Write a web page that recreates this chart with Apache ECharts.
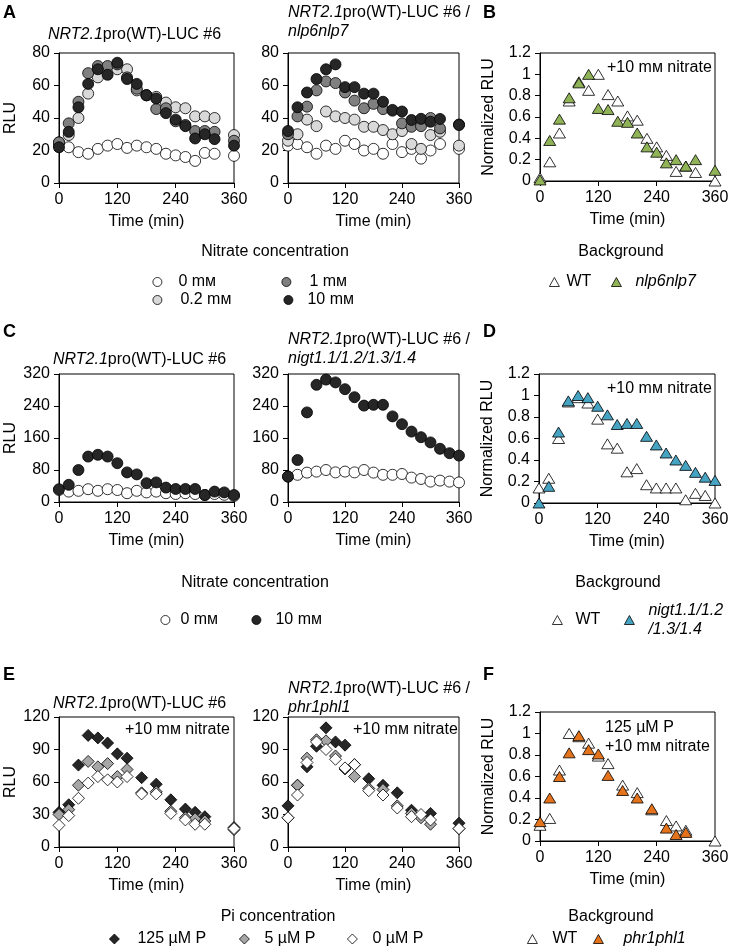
<!DOCTYPE html>
<html><head><meta charset="utf-8">
<script src="https://cdn.jsdelivr.net/npm/echarts@6/dist/echarts.min.js"></script>
<style>html,body{margin:0;padding:0;background:#fff}#c{width:742px;height:952px}</style>
</head><body><div id="c"></div>
<script>
const FF = "'Liberation Sans', Arial, Helvetica, sans-serif";

// ---------- time points (min) ----------
const timesAB = [0,20,40,60,80,100,120,140,160,180,200,220,240,260,280,300,320,360];
const timesCD = [0,20,40,60,80,100,120,140,160,180,200,220,240,260,280,300,320,340,360];
const timesEF = [0,20,40,60,80,100,120,140,170,200,230,260,280,300,360];

// ---------- tick labels ----------
const xTicks = [0,120,240,360];
const yTicksA = [0,20,40,60,80];
const yTicksC = [0,80,160,240,320];
const yTicksE = [0,30,60,90,120];
const yTicksN = [0,0.2,0.4,0.6,0.8,1,1.2];

// ---------- Panel A left: NRT2.1pro(WT)-LUC #6 ----------
const a1_0   = [23,22,19,18,21,23,24,21.6,23,22,21,18,17,16,13.6,18.5,18,16.7];
const a1_02  = [25,29.5,40,55,65,70,70,70,57,54,53,49.5,46.6,46,41,41,40,29.5];
const a1_1   = [25,36.7,50,67.6,72,72,73,65,58,54,45.5,46,38,35.7,32,32,31.5,26];
const a1_10  = [22,31.5,46.6,61,70,66.6,74,64,61,54,52,43,39,35,27.4,30,27,23];
// ---------- Panel A right: / nlp6nlp7 ----------
const a2_0   = [23,24,22,18,23,21,26,24,20,21,18,24,19,21,15,20,24,21];
const a2_02  = [26,30,39,35,44,41,40,39,34.6,34.6,32.6,30,32,24,21,29.5,31.5,23];
const a2_1   = [30,41,47,57,62.5,61.5,55.7,50.7,46,48.7,45.5,44.5,36.7,34.6,35,40,33.6,36];
const a2_10  = [32,46.6,55.7,64,70,73,59,59,55,55,50,45,44,38.8,39.5,37.7,39.4,35.7];
// ---------- Panel B: normalized ----------
const bWT    = [0.03,0.18,0.45,0.75,0.93,0.85,1.0,0.81,0.75,0.61,0.57,0.40,0.32,0.24,0.09,0.14,0.08,0.0];
const bNlp   = [0.01,0.38,0.58,0.78,0.92,1.0,0.68,0.67,0.56,0.55,0.45,0.32,0.27,0.17,0.20,0.14,0.20,0.10];
// ---------- Panel C left / right ----------
const c1_0   = [30,26,28,32,28,32,30,22,28,24,26,22,20,22,20,17.5,20,18,15];
const c1_10  = [32,43,80,113.6,118,113.6,97,74,69,47,49,36,32.6,32.6,32.6,17.5,26,24,17.5];
const c2_0   = [63.5,68,73.5,76,80,74,76,74,80,73.5,68,68,70,61,57.6,51,53.5,51,49];
const c2_10  = [63.5,105,224,293,306,299,282,262,241,243,243,214,194.6,176,162,149,133,122,116];
// ---------- Panel D: normalized ----------
const dWT    = [0.14,0.23,0.60,0.94,0.98,0.93,0.78,0.55,0.51,0.29,0.32,0.17,0.14,0.14,0.14,0.03,0.09,0.07,0.0];
const dNigt  = [0.0,0.155,0.66,0.95,1.0,0.98,0.90,0.82,0.73,0.74,0.74,0.62,0.54,0.465,0.40,0.35,0.285,0.24,0.21];
// ---------- Panel E left / right ----------
const e1_125 = [32,39,75.6,103,100.7,96,86,82,64,58,43.6,35,32,28,18];
const e1_5   = [30,34.5,57,79,74,77,65,71.5,50,51,33,27,26,24,16];
const e1_0   = [20,29,45,59,65,62,60,65,49,49,31,25,21,21,17];
const e2_125 = [38,57,74,93,110,97,94,76,63,57,50,34,28,31,22];
const e2_5   = [27,57,82,99,98,84,72,65,54,53,38,31,27,21,17];
const e2_0   = [27,48,78,97,90,81,73,76,52,48,36,28,30,25,17];
// ---------- Panel F: normalized ----------
const fWT    = [0.146,0.21,0.66,1.0,0.97,0.91,0.79,0.72,0.52,0.45,0.29,0.19,0.14,0.10,0.0];
const fPhr   = [0.18,0.40,0.60,0.82,0.98,0.85,0.81,0.61,0.47,0.40,0.30,0.12,0.06,0.08,null];

// ---------- names / colours ----------
const N0 = '0 m\u1D0D', N02 = '0.2 m\u1D0D', N1 = '1 m\u1D0D', N10 = '10 m\u1D0D';
const P125 = '125 \u00B5M P', P5 = '5 \u00B5M P', P0 = '0 \u00B5M P';
const WT = 'WT', NLP = 'nlp6nlp7', NIGT = 'nigt1.1/1.2/1.3/1.4', PHR = 'phr1phl1';
const COL = {white:'#ffffff', light:'#d9d9d9', mid:'#808080', dark:'#262626', dia5:'#a6a6a6',
             green:'#8fb356', blue:'#46a3c2', orange:'#e5731c'};

const grids = [
  {left:59,  top:53,  width:175, height:130},
  {left:288, top:53,  width:171, height:130},
  {left:540, top:53,  width:175, height:128},
  {left:59,  top:374, width:175, height:128},
  {left:288, top:374, width:171, height:128},
  {left:539, top:374, width:176, height:129},
  {left:59,  top:717, width:175, height:130},
  {left:288, top:717, width:171, height:130},
  {left:540, top:712, width:175, height:129}
].map(g => Object.assign({show:true, borderColor:'#000', borderWidth:1, backgroundColor:'transparent', containLabel:false}, g));

const txtStyle = {fontSize:16, fontFamily:FF, color:'#000'};
function xAx(gi){
  return {gridIndex:gi, type:'value', min:xTicks[0], max:xTicks[xTicks.length-1], interval:xTicks[1]-xTicks[0],
    name:'Time (min)', nameLocation:'middle', nameGap:31, nameTextStyle:txtStyle,
    axisLine:{show:true, onZero:false, lineStyle:{color:'#000', width:1}},
    axisTick:{show:true, length:5, inside:false, lineStyle:{color:'#000', width:1}},
    axisLabel:Object.assign({margin:9, showMinLabel:true, showMaxLabel:true}, txtStyle),
    splitLine:{show:false}};
}
function yAx(gi, ticks, name){
  const o = {gridIndex:gi, type:'value', min:ticks[0], max:ticks[ticks.length-1], interval:ticks[1]-ticks[0],
    axisLine:{show:true, onZero:false, lineStyle:{color:'#000', width:1}},
    axisTick:{show:true, length:5, inside:false, lineStyle:{color:'#000', width:1}},
    axisLabel:Object.assign({margin:9, showMinLabel:true, showMaxLabel:true}, txtStyle),
    splitLine:{show:false}};
  if (name) { o.name = name; o.nameLocation = 'middle'; o.nameGap = name === 'RLU' ? 40 : 43; o.nameTextStyle = txtStyle; }
  return o;
}
const xAxes = grids.map((g,i) => xAx(i));
const yAxes = [yAx(0,yTicksA,'RLU'), yAx(1,yTicksA), yAx(2,yTicksN,'Normalized RLU'),
               yAx(3,yTicksC,'RLU'), yAx(4,yTicksC), yAx(5,yTicksN,'Normalized RLU'),
               yAx(6,yTicksE,'RLU'), yAx(7,yTicksE), yAx(8,yTicksN,'Normalized RLU')];

function S(name, gi, times, vals, symbol, size, color){
  return {type:'scatter', name, xAxisIndex:gi, yAxisIndex:gi,
    data: times.map((t,i) => [t, vals[i]]).filter(p => p[1] != null),
    symbol, symbolSize:size, clip:false, silent:true,
    itemStyle:{color, borderColor:'#000', borderWidth:0.8, opacity:1},
    emphasis:{disabled:true}};
}
const CIR = 11, TRI = [12,10], DIA = 12;
const series = [
  S(N0,0,timesAB,a1_0,'circle',CIR,COL.white), S(N02,0,timesAB,a1_02,'circle',CIR,COL.light),
  S(N1,0,timesAB,a1_1,'circle',CIR,COL.mid),   S(N10,0,timesAB,a1_10,'circle',CIR,COL.dark),
  S(N0,1,timesAB,a2_0,'circle',CIR,COL.white), S(N02,1,timesAB,a2_02,'circle',CIR,COL.light),
  S(N1,1,timesAB,a2_1,'circle',CIR,COL.mid),   S(N10,1,timesAB,a2_10,'circle',CIR,COL.dark),
  S(WT,2,timesAB,bWT,'triangle',TRI,COL.white), S(NLP,2,timesAB,bNlp,'triangle',TRI,COL.green),
  S(N0,3,timesCD,c1_0,'circle',CIR,COL.white), S(N10,3,timesCD,c1_10,'circle',CIR,COL.dark),
  S(N0,4,timesCD,c2_0,'circle',CIR,COL.white), S(N10,4,timesCD,c2_10,'circle',CIR,COL.dark),
  S(WT,5,timesCD,dWT,'triangle',TRI,COL.white), S(NIGT,5,timesCD,dNigt,'triangle',TRI,COL.blue),
  S(P125,6,timesEF,e1_125,'diamond',DIA,COL.dark), S(P5,6,timesEF,e1_5,'diamond',DIA,COL.dia5),
  S(P0,6,timesEF,e1_0,'diamond',DIA,COL.white),
  S(P125,7,timesEF,e2_125,'diamond',DIA,COL.dark), S(P5,7,timesEF,e2_5,'diamond',DIA,COL.dia5),
  S(P0,7,timesEF,e2_0,'diamond',DIA,COL.white),
  S(WT,8,timesEF,fWT,'triangle',TRI,COL.white), S(PHR,8,timesEF,fPhr,'triangle',TRI,COL.orange)
];

// ---------- legends (one component per item) ----------
function L(name, cx, cy, textX, iw, ih, italic, twoLine){
  const left = cx - iw/2;
  const pad = Math.max(0, textX - (left + iw + 5));
  const lh = twoLine ? 19 : 18;
  const tok = {fontSize:16, fontFamily:FF, color:'#000', lineHeight:lh, padding:[0,0,0,pad]};
  return {data:[name], left:left, top: cy - (twoLine ? 19 : 9), padding:0, orient:'horizontal',
    itemWidth:iw, itemHeight:ih, selectedMode:false,
    itemStyle:{borderWidth:0.8, borderColor:'#000'},
    formatter: function(n){
      if (twoLine) return '{i|nigt1.1/1.2}\n{i|/1.3/1.4}';
      return italic ? '{i|' + n + '}' : '{t|' + n + '}';
    },
    textStyle:{fontSize:16, fontFamily:FF, color:'#000', lineHeight:lh,
      rich:{t:tok, i:Object.assign({fontStyle:'italic'}, tok)}}};
}
const legends = [
  L(N0, 157,282,178, 9,9), L(N1, 286,282,309, 9,9),
  L(N02,157,300,180, 9,9), L(N10,288,300,307, 9,9),
  L(WT, 554,282,566, 10,9), L(NLP,616,282,635, 10,9, true),
  L(N0, 165,620,180, 9,9), L(N10,256,620,275, 9,9),
  L(WT, 557,620,575, 10,9), L(NIGT,629,620,648, 10,9, true, true),
  L(P125,114,939,137, 10,10), L(P5,244,939,264, 10,10), L(P0,352,939,372, 10,10),
  L(WT, 532,939,552, 10,9), L(PHR,598,939,623, 10,9, true)
];

// ---------- free texts ----------
const RICH = {i:{fontStyle:'italic', fontSize:16, fontFamily:FF, fill:'#000', lineHeight:19}};
function T(x, y, text, o){
  return {type:'text', x:x, y:y, silent:true, z:100,
    style:Object.assign({text:text, fontSize:16, fontFamily:FF, fill:'#000', lineHeight:19,
      align:'left', textAlign:'left', verticalAlign:'middle', textVerticalAlign:'middle', rich:RICH}, o||{})};
}
const TOP = {verticalAlign:'top', textVerticalAlign:'top'};
const CEN = {align:'center', textAlign:'center'};
const BOLD = {fontWeight:'bold', fontSize:18};
const NIT = '+10 m\u1D0D nitrate';
const graphics = [
  T(3,13,'A',BOLD), T(483,13,'B',BOLD), T(3,332,'C',BOLD), T(483,332,'D',BOLD), T(3,675,'E',BOLD), T(483,675,'F',BOLD),
  T(48,35,'{i|NRT2.1}pro(WT)-LUC #6'),
  T(288,3.5,'{i|NRT2.1}pro(WT)-LUC #6 /\n{i|nlp6nlp7}',TOP),
  T(53,360,'{i|NRT2.1}pro(WT)-LUC #6'),
  T(288,330.5,'{i|NRT2.1}pro(WT)-LUC #6 /\n{i|nigt1.1/1.2/1.3/1.4}',TOP),
  T(53,704,'{i|NRT2.1}pro(WT)-LUC #6'),
  T(288,679.5,'{i|NRT2.1}pro(WT)-LUC #6 /\n{i|phr1phl1}',TOP),
  T(607,68,NIT), T(607,389,NIT), T(125,730,NIT), T(353,730,NIT),
  T(605,728,'125 \u00B5M P'), T(605,747,NIT),
  T(275,252,'Nitrate concentration',CEN), T(621,252,'Background',CEN),
  T(255,583,'Nitrate concentration',CEN), T(618,583,'Background',CEN),
  T(278,917,'Pi concentration',CEN), T(611,917,'Background',CEN)
];

const chart = echarts.init(document.getElementById('c'), null, {renderer:'canvas'});
chart.setOption({
  animation:false, backgroundColor:'#fff',
  textStyle:{fontFamily:FF},
  grid:grids, xAxis:xAxes, yAxis:yAxes, series:series, legend:legends,
  graphic:{elements:graphics}
});
</script></body></html>
